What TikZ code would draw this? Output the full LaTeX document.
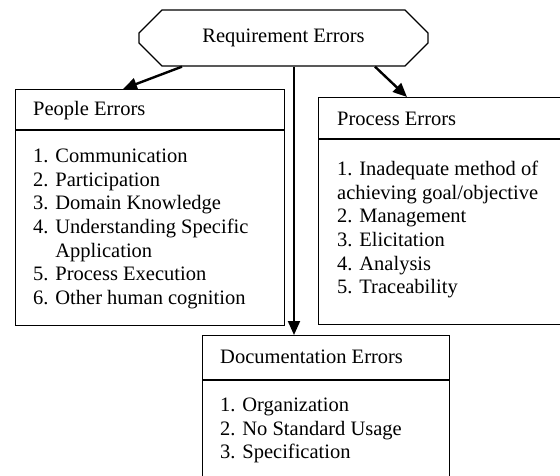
\documentclass[tikz,border=0pt]{standalone}
\usepackage{fontspec}
\setmainfont{Liberation Serif}
\usetikzlibrary{shapes.misc,arrows.meta}

\tikzset{
  errbox/.style={draw, line width=1.4pt, rectangle, inner sep=0pt, anchor=north west},
  errhead/.style={anchor=west, inner sep=0pt},
  errlist/.style={anchor=north west, inner sep=0pt, align=left},
  divider/.style={line width=1.4pt},
  link/.style={line width=2.4pt, -{Triangle[length=14pt,width=12pt]}},
}

\begin{document}
\begin{tikzpicture}[x=1pt,y=-1pt,font=\fontsize{20.5}{23.6}\selectfont]
  \useasboundingbox (0,0) rectangle (560,476);
  \clip (0,0) rectangle (560,476);

  % top node
  \node[draw, line width=1.3pt, chamfered rectangle, chamfered rectangle xsep=14pt,
        chamfered rectangle ysep=14pt, minimum width=289pt, minimum height=56pt,
        inner sep=0pt] (req) at (283.5,38) {Requirement Errors};

  % the three boxes
  \node[errbox, minimum width=269pt, minimum height=236pt] (people) at (15,89) {};
  \node[errbox, minimum width=262pt, minimum height=227pt] (process) at (318,97) {};
  \node[errbox, minimum width=247pt, minimum height=165pt] (doc) at (202,335) {};

  \draw[divider] ([yshift=-41pt]people.north west) -- ([yshift=-41pt]people.north east);
  \draw[divider] ([yshift=-42pt]process.north west) -- ([yshift=-42pt]process.north east);
  \draw[divider] ([yshift=-45pt]doc.north west) -- ([yshift=-45pt]doc.north east);

  \node[errhead] (peoplehead) at ([xshift=18pt,yshift=-22pt]people.north west) {People Errors};
  \node[errhead] (processhead) at ([xshift=19pt,yshift=-22pt]process.north west) {Process Errors};
  \node[errhead] (dochead) at ([xshift=18pt,yshift=-22pt]doc.north west) {Documentation Errors};

  \node[errlist] (peoplelist) at ([xshift=18pt,yshift=-60pt]people.north west)
    {1. Communication\\2. Participation\\3. Domain Knowledge\\4. Understanding Specific\\
     \phantom{4. }Application\\5. Process Execution\\6. Other human cognition};
  \node[errlist] (processlist) at ([xshift=19pt,yshift=-64pt]process.north west)
    {1. Inadequate method of\\achieving goal/objective\\2. Management\\3. Elicitation\\
     4. Analysis\\5. Traceability};
  \node[errlist] (doclist) at ([xshift=18pt,yshift=-63pt]doc.north west)
    {1. Organization\\2. No Standard Usage\\3. Specification};

  % arrows
  \draw[link] ([xshift=-101.5pt]req.south) -- ([xshift=108pt]people.north west);
  \draw[link, line width=2pt] ([xshift=10.5pt]req.south) -- ([xshift=92pt]doc.north west);
  \draw[link] ([xshift=91.5pt]req.south) -- ([xshift=89pt]process.north west);
\end{tikzpicture}
\end{document}
